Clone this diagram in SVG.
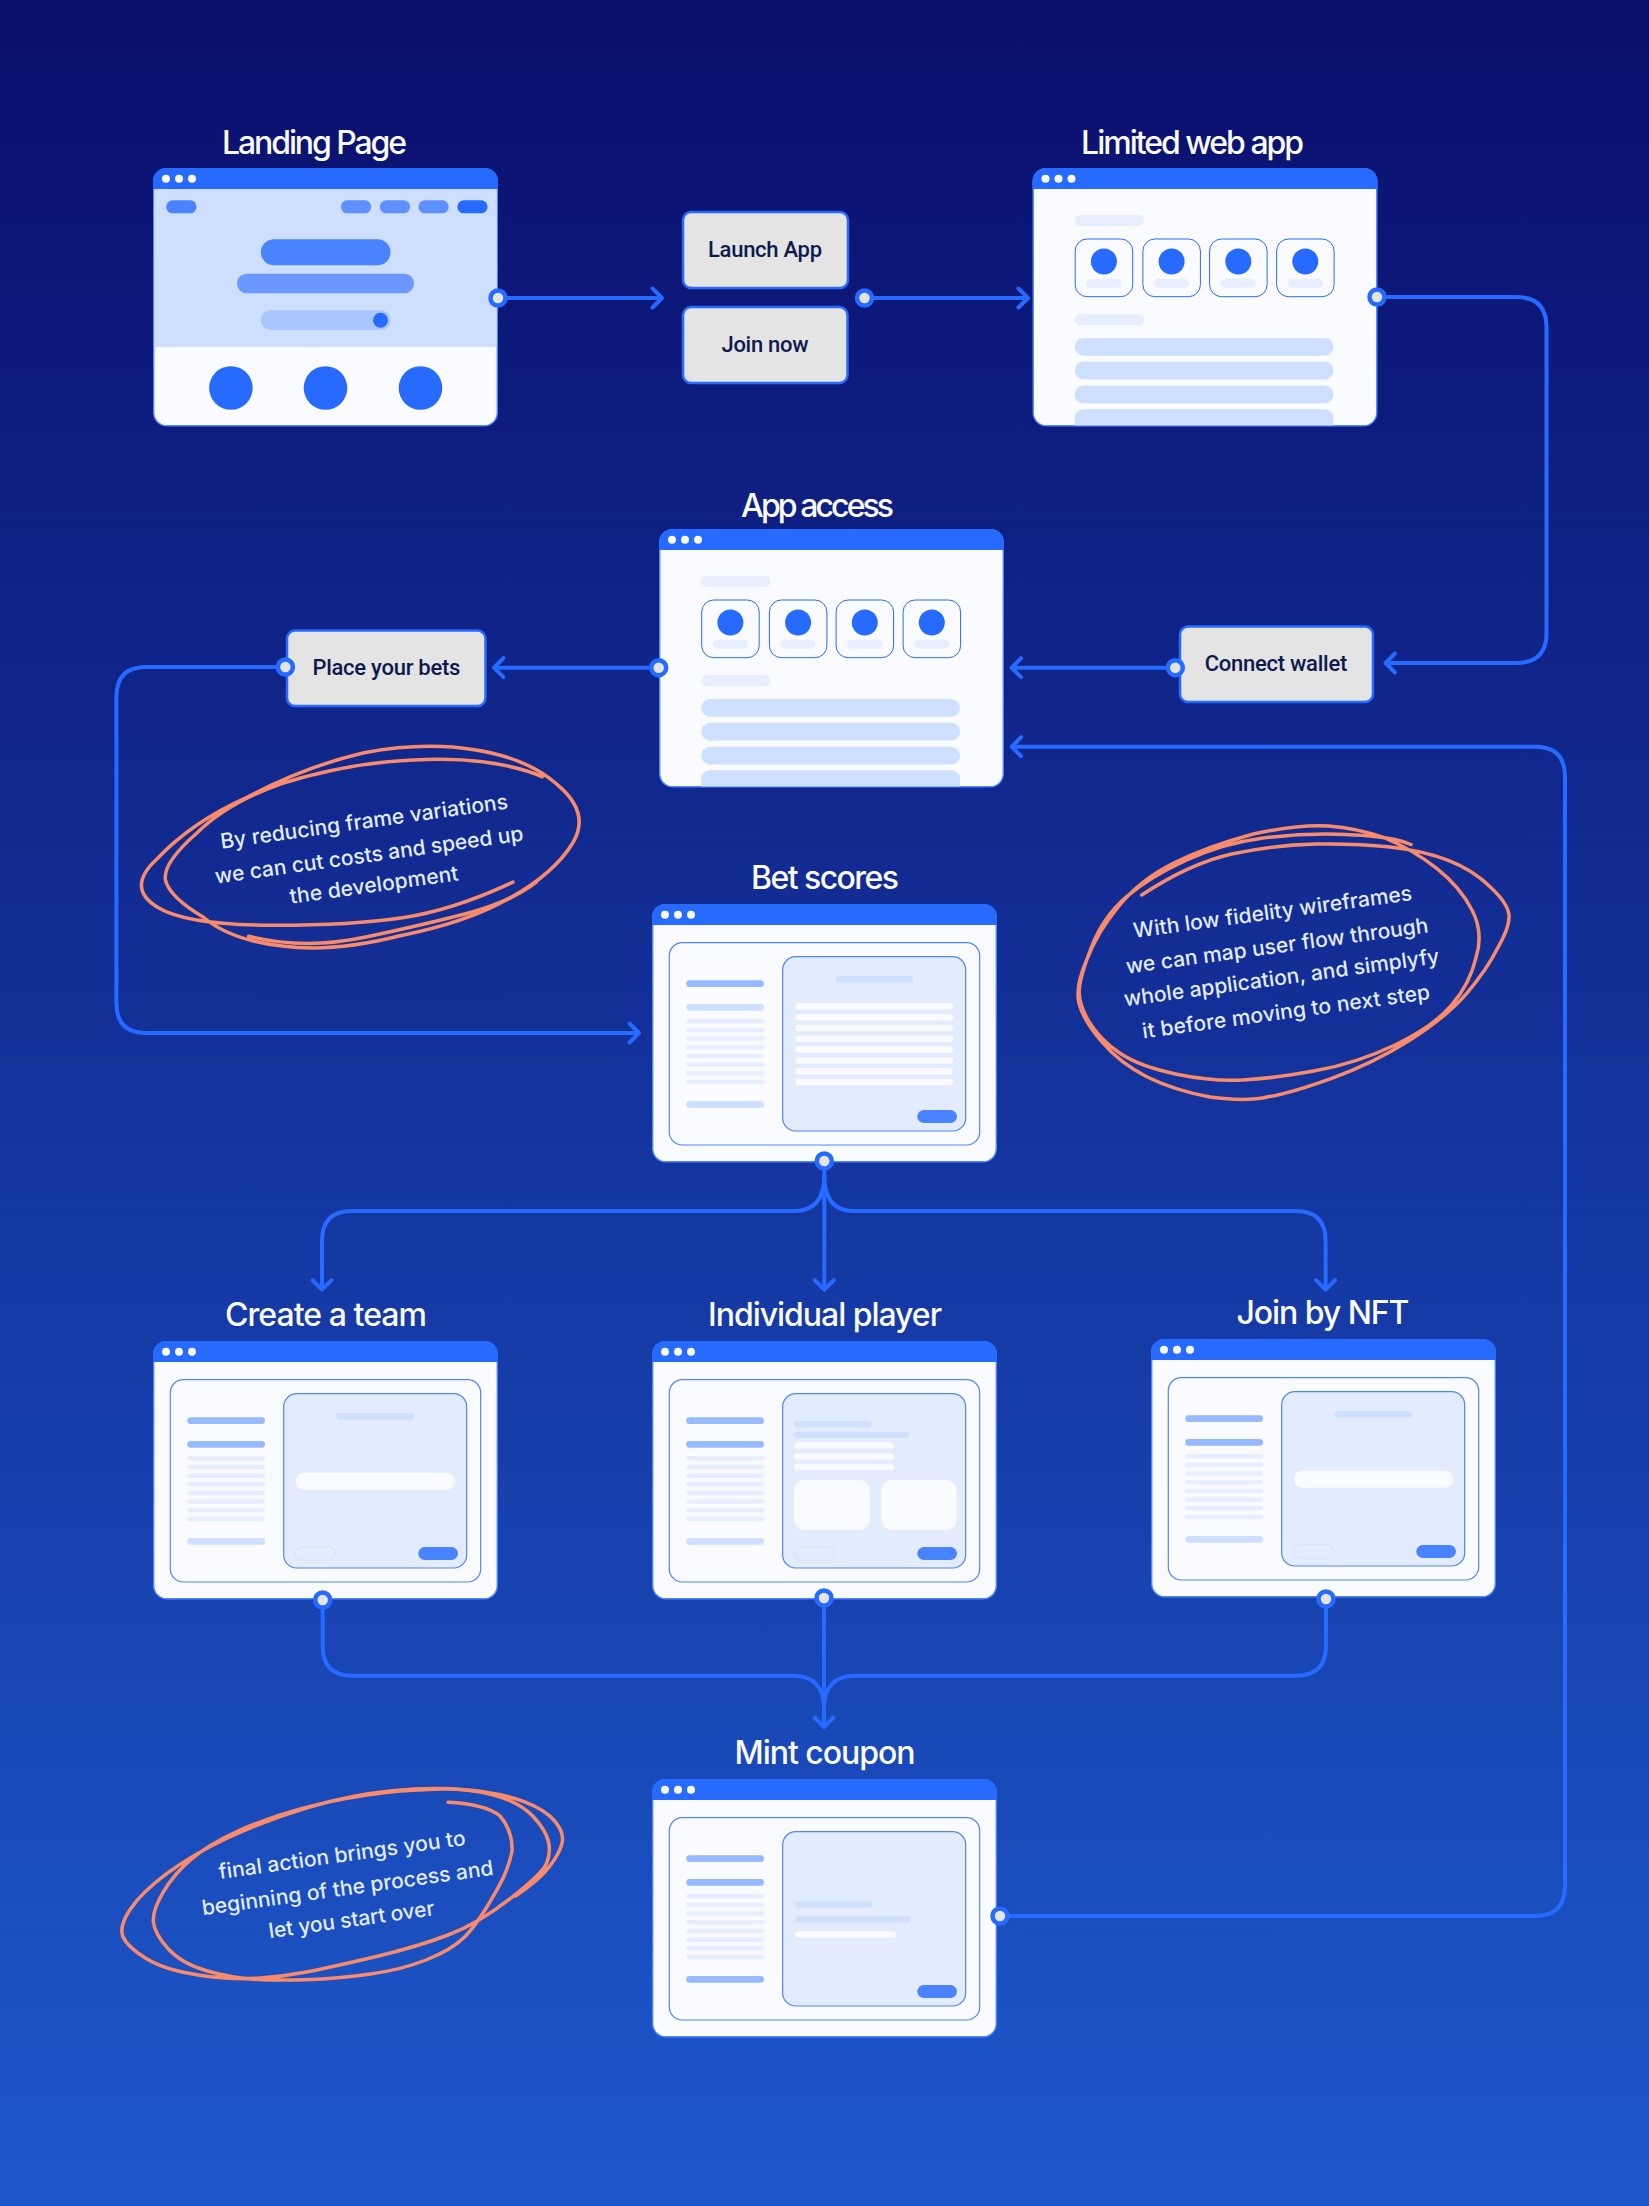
<svg xmlns="http://www.w3.org/2000/svg" width="1649" height="2206" viewBox="0 0 1649 2206">
<style>
.title{font-family:"Inter","Liberation Sans",sans-serif;font-weight:500;font-size:32px;fill:#F9FBFF;text-anchor:middle}
.btn{fill:#E4E4E4;stroke:#266AFF;stroke-width:2.5}
.btxt{font-family:"Roboto","Liberation Sans",sans-serif;font-weight:500;font-size:22px;fill:#0D1A4D;text-anchor:middle}
.note{font-family:"Inter","Open Sans",sans-serif;font-weight:500;font-size:21px;fill:#E3ECFF;text-anchor:middle}
.scrib{fill:none;stroke:#F78B6B;stroke-width:3.5;stroke-linecap:round;stroke-linejoin:round}
.line{fill:none;stroke:#266AFF;stroke-width:4}
.port{fill:#E4E4E4;stroke:#266AFF;stroke-width:4.5}
.blue{fill:#266AFF}.dk{fill:#96B9FF}.lt{fill:#CFDFFF}.xl{fill:#E6EEFF}.wh{fill:#F9FBFF}.pane{fill:#E3ECFF;stroke:#4F86FF;stroke-width:1.2}
.box{fill:#F9FBFF;stroke:#4F86FF;stroke-width:1.2}.card{fill:#F9FBFF;stroke:#266AFF;stroke-width:1}.btn2{fill:#4A83FF}.ghost{fill:none;stroke:#D6E3FF;stroke-width:1.2}
</style>
<defs>
<linearGradient id="bg" x1="0" y1="0" x2="0" y2="1"><stop offset="0" stop-color="#0A0E6C"/><stop offset="1" stop-color="#1D58CC"/></linearGradient>
<marker id="arrow" markerUnits="userSpaceOnUse" markerWidth="30" markerHeight="30" refX="15" refY="15" viewBox="0 0 30 30" orient="auto"><path d="M5.5 5.5L15 15L5.5 24.5" fill="none" stroke="#266AFF" stroke-width="4" stroke-linecap="round" stroke-linejoin="round"/></marker>
<g id="frame">
<rect x="0.7" y="0.7" width="343.6" height="257" rx="13" fill="#F9FBFF" stroke="#4F86FF" stroke-width="1.4"/>
<path class="blue" d="M0 21V13A13 13 0 0 1 13 0H332A13 13 0 0 1 345 13V21Z"/>
<circle class="wh" cx="13" cy="10.7" r="4"/><circle class="wh" cx="26" cy="10.7" r="4"/><circle class="wh" cx="39" cy="10.7" r="4"/>
</g>
<g id="card"><rect class="card" x="42.7" y="71" width="57.5" height="57.7" rx="12"/><circle class="blue" cx="71.4" cy="93.5" r="13"/><rect class="xl" x="53.8" y="110.7" width="35" height="9" rx="4.5"/></g>
<g id="gridwin">
<use href="#frame"/>
<rect class="xl" x="42.2" y="47" width="69.3" height="11" rx="5.5"/>
<use href="#card"/><use href="#card" x="67.7"/><use href="#card" x="134.4"/><use href="#card" x="201.4"/>
<rect class="xl" x="42.2" y="146.3" width="69.3" height="11" rx="5.5"/>
<rect class="lt" x="42.2" y="170" width="258.8" height="17.7" rx="8.8"/>
<rect class="lt" x="42.2" y="193.7" width="258.8" height="17.7" rx="8.8"/>
<rect class="lt" x="42.2" y="217.7" width="258.8" height="17.7" rx="8.8"/>
<path class="lt" d="M42.2 257.5V250A8.8 8.8 0 0 1 51 241.3H292.2A8.8 8.8 0 0 1 301 250V257.5Z"/>
</g>
<g id="twopane">
<use href="#frame"/>
<rect class="box" x="17.3" y="38.7" width="310.4" height="202.3" rx="13"/>
<rect class="pane" x="130.7" y="52.7" width="183" height="174.3" rx="13"/>
<rect class="dk" x="34.3" y="76.3" width="77.7" height="6.7" rx="3.3"/>
<rect class="xl" x="34.3" y="115" width="77.7" height="4.5" rx="2.2"/>
<rect class="xl" x="34.3" y="123.7" width="77.7" height="4.5" rx="2.2"/>
<rect class="xl" x="34.3" y="132.3" width="77.7" height="4.5" rx="2.2"/>
<rect class="xl" x="34.3" y="141" width="77.7" height="4.5" rx="2.2"/>
<rect class="xl" x="34.3" y="149.7" width="77.7" height="4.5" rx="2.2"/>
<rect class="xl" x="34.3" y="158.3" width="77.7" height="4.5" rx="2.2"/>
<rect class="xl" x="34.3" y="167" width="77.7" height="4.5" rx="2.2"/>
<rect class="xl" x="34.3" y="175.7" width="77.7" height="4.5" rx="2.2"/>
<rect class="btn2" x="265.3" y="206" width="39.7" height="13" rx="6.5"/>
</g>
</defs>
<rect width="1649" height="2206" fill="url(#bg)"/>

<g id="landing-page">
<text class="title" x="314.5" y="154" textLength="185">Landing Page</text>
<g transform="translate(153 168)">
<use href="#frame"/>
<rect x="1.4" y="21" width="342.2" height="158" fill="#CEDEFF"/>
<rect class="btn2" x="13.2" y="32.3" width="30.4" height="13" rx="6.5"/>
<rect x="187.9" y="32.3" width="30.3" height="13" rx="6.5" fill="#5E90FF"/>
<rect x="226.8" y="32.3" width="30.3" height="13" rx="6.5" fill="#5E90FF"/>
<rect x="265.4" y="32.3" width="30.3" height="13" rx="6.5" fill="#5E90FF"/>
<rect class="blue" x="304.3" y="32.3" width="30.3" height="13" rx="6.5"/>
<rect class="btn2" x="107.9" y="71.3" width="129.6" height="26" rx="13"/>
<rect x="84" y="105.7" width="177" height="19.6" rx="9.8" fill="#6A98FF"/>
<rect x="107.9" y="142.3" width="129.6" height="19.7" rx="9.8" fill="#AAC6FF"/>
<circle class="blue" cx="227.5" cy="152.3" r="7.5"/>
<circle class="blue" cx="77.9" cy="220" r="21.8"/><circle class="blue" cx="172.5" cy="220" r="21.8"/><circle class="blue" cx="267.5" cy="220" r="21.8"/>
</g>
</g>

<g id="launch-app"><rect class="btn" x="683" y="212" width="165" height="76" rx="8"/><text class="btxt" x="765" y="256.5" textLength="114">Launch App</text></g>
<g id="join-now"><rect class="btn" x="683" y="307" width="164.5" height="76" rx="8"/><text class="btxt" x="765" y="351.5" textLength="87">Join now</text></g>

<g id="limited-web-app"><text class="title" x="1192.6" y="154" textLength="223">Limited web app</text><use href="#gridwin" transform="translate(1032.5 168)"/></g>
<g id="app-access"><text class="title" x="817.6" y="516.7" textLength="153">App access</text><use href="#gridwin" transform="translate(659 529)"/></g>
<g id="connect-wallet"><rect class="btn" x="1180" y="626.5" width="193" height="75.5" rx="8"/><text class="btxt" x="1276" y="671" textLength="142.5">Connect wallet</text></g>
<g id="place-your-bets"><rect class="btn" x="287" y="630.5" width="198.5" height="75.5" rx="8"/><text class="btxt" x="386.4" y="675" textLength="148">Place your bets</text></g>

<g id="bet-scores"><text class="title" x="825" y="889" textLength="148">Bet scores</text>
<g transform="translate(652 904)"><use href="#twopane"/>
<rect class="lt" x="34.3" y="100" width="77.7" height="6.7" rx="3.3"/><rect class="lt" x="34.3" y="197" width="77.7" height="6.7" rx="3.3"/>
<rect class="lt" x="183.3" y="72" width="77.7" height="6.7" rx="3.3"/>
<rect class="wh" x="143.3" y="99" width="157.7" height="6.5" rx="3.2"/><rect class="wh" x="143.3" y="110" width="157.7" height="6.5" rx="3.2"/><rect class="wh" x="143.3" y="120.8" width="157.7" height="6.5" rx="3.2"/><rect class="wh" x="143.3" y="131.5" width="157.7" height="6.5" rx="3.2"/><rect class="wh" x="143.3" y="142.3" width="157.7" height="6.5" rx="3.2"/><rect class="wh" x="143.3" y="153.2" width="157.7" height="6.5" rx="3.2"/><rect class="wh" x="143.3" y="164" width="157.7" height="6.5" rx="3.2"/><rect class="wh" x="143.3" y="174.8" width="157.7" height="6.5" rx="3.2"/>
</g></g>

<g id="create-a-team"><text class="title" x="326" y="1326" textLength="202">Create a team</text>
<g transform="translate(153 1341)"><use href="#twopane"/>
<rect class="dk" x="34.3" y="100" width="77.7" height="6.7" rx="3.3"/><rect class="lt" x="34.3" y="197" width="77.7" height="6.7" rx="3.3"/>
<rect class="lt" x="183.3" y="72" width="77.7" height="6.7" rx="3.3"/>
<rect class="wh" x="142.7" y="131.7" width="159.6" height="17" rx="8.5"/>
<rect class="ghost" x="142.3" y="205.7" width="40.4" height="13.3" rx="6.6"/>
</g></g>

<g id="individual-player"><text class="title" x="825" y="1326" textLength="234">Individual player</text>
<g transform="translate(652 1341)"><use href="#twopane"/>
<rect class="dk" x="34.3" y="100" width="77.7" height="6.7" rx="3.3"/><rect class="lt" x="34.3" y="197" width="77.7" height="6.7" rx="3.3"/>
<rect class="lt" x="142" y="80" width="77.7" height="6.3" rx="3.1"/><rect class="lt" x="142" y="90.7" width="115.3" height="6.3" rx="3.1"/>
<rect class="wh" x="142" y="101.3" width="100.3" height="6.3" rx="3.1"/><rect class="wh" x="142" y="112.2" width="100.3" height="6.3" rx="3.1"/><rect class="wh" x="142" y="123" width="100.3" height="6.3" rx="3.1"/>
<rect class="wh" x="142" y="139" width="75.7" height="49.7" rx="10"/><rect class="wh" x="229.3" y="139" width="75.4" height="49.7" rx="10"/>
<rect class="ghost" x="142.3" y="205.7" width="40.4" height="13.3" rx="6.6"/>
</g></g>

<g id="join-by-nft"><text class="title" x="1323" y="1324" textLength="173">Join by NFT</text>
<g transform="translate(1151 1339)"><use href="#twopane"/>
<rect class="dk" x="34.3" y="100" width="77.7" height="6.7" rx="3.3"/><rect class="lt" x="34.3" y="197" width="77.7" height="6.7" rx="3.3"/>
<rect class="lt" x="183.3" y="72" width="77.7" height="6.7" rx="3.3"/>
<rect class="wh" x="142.7" y="131.7" width="159.6" height="17" rx="8.5"/>
<rect class="ghost" x="142.3" y="205.7" width="40.4" height="13.3" rx="6.6"/>
</g></g>

<g id="mint-coupon"><text class="title" x="825" y="1764" textLength="181">Mint coupon</text>
<g transform="translate(652 1779)"><use href="#twopane"/>
<rect class="dk" x="34.3" y="100" width="77.7" height="6.7" rx="3.3"/><rect class="dk" x="34.3" y="197" width="77.7" height="6.7" rx="3.3"/>
<rect class="lt" x="143" y="122.3" width="77.7" height="6.2" rx="3.1"/><rect class="lt" x="143" y="137.3" width="115.7" height="6.2" rx="3.1"/><rect class="wh" x="143" y="152.3" width="100.7" height="6.3" rx="3.1"/>
</g></g>

<g id="note-frames">
<text class="note" transform="translate(365 828.5) rotate(-8)" textLength="290">By reducing frame variations</text>
<text class="note" transform="translate(370 862) rotate(-8)" textLength="311">we can cut costs and speed up</text>
<text class="note" transform="translate(375 892) rotate(-8)" textLength="170">the development</text>
<g transform="translate(361 848) scale(1.013 1.003) translate(-361 -848)">
<path class="scrib" d="M511 882Q452 910 402 917.5Q352 925 276 925Q190 925 161 907.5Q128 888 160 858.5Q194 822 249.5 797Q305 767 364 753Q423 742 472.7 750Q525 758 555 785Q588 813 570 843Q552 873 508 898Q464 923 399.5 935.5Q335 952 285 946Q232 940 205.5 917Q172 897 168 880Q165 863 199 833Q229 803 282 784Q335 767 387.5 762Q440 757 481 762Q518 767 540 777"/>
<path class="scrib" d="M250 936Q305 950 367 936.5Q429 923 470 912Q511 900 534 882"/>
</g>
</g>
<g id="note-wireframes">
<text class="note" transform="translate(1273.5 919) rotate(-7.8)" textLength="281">With low fidelity wireframes</text>
<text class="note" transform="translate(1278 953) rotate(-7.8)" textLength="305">we can map user flow through</text>
<text class="note" transform="translate(1282.5 984.7) rotate(-7.8)" textLength="318">whole application, and simplyfy</text>
<text class="note" transform="translate(1287 1018.7) rotate(-7.8)" textLength="290">it before moving to next step</text>
<path class="scrib" d="M1141.7 895Q1190 863.3 1231.7 854Q1273.3 845 1315 844Q1356.7 843.3 1390 847Q1423.3 850.7 1448.3 860.3Q1473.3 870 1490 886.7Q1508 903.3 1509 915Q1510 926.7 1497.5 948.3Q1486.7 970 1466.7 993.3Q1446.7 1016.7 1410 1040Q1373.3 1063.3 1331.7 1078.3Q1290 1093.3 1268.3 1096.7Q1246.7 1102 1210 1097Q1173.3 1090 1146.7 1076.7Q1120 1063.3 1101.7 1041.7Q1083.3 1020 1079 1003.3Q1075 986.7 1086.7 960Q1096.7 933.3 1118.3 906.7Q1140 880 1173.3 863.3Q1206.7 846.7 1253.3 834Q1300 824 1328.3 826Q1356.7 828 1385 838Q1413.3 850 1436.7 868.3Q1460 886.7 1472 910Q1484 933.3 1475.8 958.3Q1470 983.3 1451.7 1005Q1433.3 1026.7 1395 1045Q1356.7 1063.3 1315 1070.8Q1273.3 1078.3 1243.3 1080Q1213.3 1081.7 1176.7 1074.2Q1140 1066.7 1120 1053.3Q1100 1040 1089 1021.7Q1078.3 1003.3 1079.2 990Q1080 976.7 1091.7 946.7Q1103.3 916.7 1126.7 896.7Q1150 876.7 1186.7 860Q1223.3 843.3 1261.7 838.3Q1300 833.3 1336.7 834.2Q1373.3 835 1395 839.5Q1404 841.5 1411 844.5"/>
</g>
<g id="note-final">
<text class="note" transform="translate(343 1862) rotate(-7.9)" textLength="249">final action brings you to</text>
<text class="note" transform="translate(348.5 1895) rotate(-7.9)" textLength="294">beginning of the process and</text>
<text class="note" transform="translate(352.5 1926.7) rotate(-7.9)" textLength="167">let you start over</text>
<path class="scrib" transform="translate(343 1885) scale(1.013 1) translate(-343 -1885)" d="M446.7 1802.3Q483.3 1804 498 1816Q510 1830 510 1850Q507 1868 496.7 1886.7Q476.7 1923.3 463.3 1936.7Q450 1950 425 1960Q400 1970 370 1974Q340 1978.3 311.7 1979.5Q283.3 1980.7 258.3 1979.5Q233.3 1978.3 208.3 1970.8Q183.3 1963.3 170 1948.3Q156.7 1933.3 155.8 1921.7Q155 1910 165.8 1891.7Q176.7 1873.3 193.3 1859.2Q210 1845 238.3 1831.7Q266.7 1818.3 300 1809.2Q333.3 1800 366.7 1795Q400 1790 433.3 1789.2Q466.7 1788.3 491.7 1795Q516.7 1801.7 530 1815.8Q543.3 1830 545.8 1841.7Q548.3 1853.3 544 1863.3Q540 1873.3 508.3 1898.3Q476.7 1923.3 446.7 1935Q416.7 1946.7 375 1956.7Q333.3 1966.7 308.3 1971.7Q283.3 1976.7 258.3 1978.3Q233.3 1980 200 1975Q166.7 1970 148.3 1958.3Q130 1946.7 125.8 1936.7Q121.7 1926.7 132.5 1910Q143.3 1893.3 168.3 1874.2Q193.3 1855 230 1837.5Q266.7 1820 308.3 1807.5Q350 1795 391.7 1790.8Q433.3 1786.7 466.7 1790Q500 1793.3 521.7 1801.7Q543.3 1810 552.5 1821.7Q561.7 1833.3 559.2 1843.3Q556.7 1853.3 546.7 1866.7Q536.7 1880 513.3 1896"/>
</g>

<g id="connectors">
<path class="line" marker-end="url(#arrow)" d="M498 298H662"/>
<path class="line" marker-end="url(#arrow)" d="M864.5 298H1028"/>
<path class="line" marker-end="url(#arrow)" d="M1377 297H1516Q1546.5 297 1546.5 327V633Q1546.5 663 1516 663H1385.5"/>
<path class="line" marker-end="url(#arrow)" d="M1175.3 667.7H1011.6"/>
<path class="line" marker-end="url(#arrow)" d="M658.7 667.7H494"/>
<path class="line" marker-end="url(#arrow)" d="M285.4 667H146Q116.4 667 116.4 697V1003Q116.4 1033 146 1033H639"/>
<path class="line" marker-end="url(#arrow)" d="M1000 1916H1535Q1565 1916 1565 1886V776.7Q1565 746.7 1535 746.7H1011.6"/>
<path class="line" marker-end="url(#arrow)" d="M824.3 1161V1289.7"/>
<path class="line" marker-end="url(#arrow)" d="M824.3 1175C824.3 1200 835 1211 854 1211H1295.6Q1325.6 1211 1325.6 1241V1289.7"/>
<path class="line" marker-end="url(#arrow)" d="M824.3 1175C824.3 1200 813 1211 794 1211H352Q322 1211 322 1241V1289.7"/>
<path class="line" d="M322.7 1600V1646Q322.7 1675.7 352 1675.7H794C813 1675.7 824 1687 824 1708"/>
<path class="line" d="M1326 1599V1646Q1326 1675.7 1296 1675.7H854C835 1675.7 824 1687 824 1708"/>
<path class="line" marker-end="url(#arrow)" d="M824 1598V1727"/>
<circle class="port" cx="498" cy="298" r="7.5"/><circle class="port" cx="864.5" cy="298" r="7.5"/><circle class="port" cx="1377" cy="297" r="7.5"/><circle class="port" cx="1175.3" cy="667.7" r="7.5"/><circle class="port" cx="658.7" cy="667.7" r="7.5"/><circle class="port" cx="285.4" cy="667" r="7.5"/><circle class="port" cx="824.3" cy="1161" r="7.5"/><circle class="port" cx="322.7" cy="1600" r="7.5"/><circle class="port" cx="824" cy="1598" r="7.5"/><circle class="port" cx="1326" cy="1599" r="7.5"/><circle class="port" cx="1000" cy="1916" r="7.5"/>
</g>
</svg>
